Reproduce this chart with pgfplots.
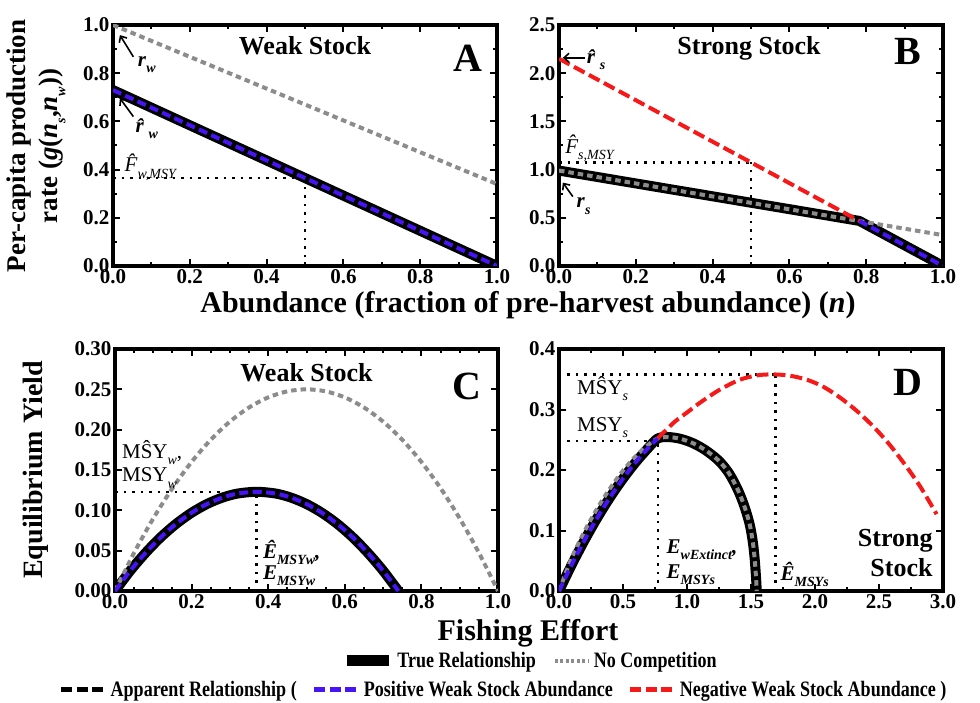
\documentclass[border=0pt]{standalone}
\usepackage{graphicx}
\usepackage{pgfplots}
\pgfplotsset{compat=1.18}
\usepackage{fontspec}
\setmainfont{Liberation Serif}
\usetikzlibrary{arrows.meta}

\definecolor{appblue}{RGB}{70,20,245}
\definecolor{appred}{RGB}{245,25,25}
\definecolor{nocomp}{RGB}{140,140,140}

\newcommand{\fs}[1]{\fontsize{#1}{#1}\selectfont}
\newcommand{\sub}[1]{\raisebox{-0.3em}{\fontsize{14}{14}\selectfont #1}}
% narrow bold lettering of the key
\newcommand{\keytext}[1]{\scalebox{0.82}[1]{#1}}

\tikzset{
  note/.style={font=\fs{21}, inner sep=0pt},
  paneltitle/.style={font=\bfseries\fs{26}, inner sep=0pt},
  letter/.style={font=\bfseries\fs{40}, inner sep=0pt},
  callout/.style={-{Straight Barb[length=5pt,width=9pt]}, line width=1.6pt},
}

\pgfplotsset{
  panel/.style={
    scale only axis, width=384pt,
    axis line style={line width=3.5pt},
    every tick/.style={black, line width=2pt},
    major tick length=7pt, minor tick length=4pt,
    tick align=inside,
    ticklabel style={font=\bfseries\fs{21}},
    /pgf/number format/assume math mode=true,
    xticklabel style={/pgf/number format/.cd, fixed, fixed zerofill, precision=1},
    clip=true,
  },
  truerel/.style={black, line width=10pt, line join=round},
  nocomp line/.style={nocomp, line width=4pt, dash pattern=on 5.5pt off 4pt},
  posweak/.style={appblue, line width=4pt, dash pattern=on 9pt off 4.5pt},
  negweak/.style={appred, line width=4pt, dash pattern=on 12pt off 5pt},
  guide/.style={black, line width=2.5pt, dash pattern=on 2.5pt off 6pt},
  long sample/.style={legend image code/.code={\draw[##1] (0pt,0pt) -- (44pt,0pt);}},
  bar sample/.style={legend image code/.code={\draw[##1] (0pt,0pt) -- (42pt,0pt);}},
  short sample/.style={legend image code/.code={\draw[##1] (0pt,0pt) -- (34pt,0pt);}},
  keyrow/.style={legend style={draw=none, fill=none, anchor=center,
    font=\bfseries\fs{22}, legend columns=-1, nodes={inner sep=3pt},
    /tikz/every even column/.append style={column sep=#1}}},
}

\begin{document}
\begin{tikzpicture}
\path[use as bounding box] (0pt,0pt) rectangle (980pt,702pt);

% ---------- A: per-capita production, weak stock ----------
\begin{axis}[panel, at={(113pt,436pt)}, height=241pt,
  xmin=0, xmax=1, ymin=0, ymax=1,
  xtick={0,0.2,0.4,0.6,0.8,1}, ytick={0,0.2,0.4,0.6,0.8,1}, minor tick num=1,
  yticklabel style={/pgf/number format/.cd, fixed, fixed zerofill, precision=1}]
\addplot[guide] coordinates {(0,0.365) (0.5,0.365)};
\addplot[guide] coordinates {(0.5,0) (0.5,0.365)};
\addplot[truerel] coordinates {(0,0.73) (1,0)};
\addplot[nocomp line] coordinates {(0,1.0) (1,0.34)};
\addplot[posweak] coordinates {(0,0.73) (1,0)};
\node[paneltitle] at (axis cs:0.5,0.913) {Weak Stock};
\node[letter] at (axis cs:0.924,0.86) {A};
\draw[callout] (axis cs:0.053,0.868) -- (axis cs:0.018,0.958);
\node[note] at (axis cs:0.088,0.835) {\textbf{\textit{r}\sub{\textit{w}}}};
\draw[callout] (axis cs:0.053,0.62) -- (axis cs:0.018,0.696);
\node[note] at (axis cs:0.088,0.57) {\textbf{\textit{\^{r}}\sub{\textit{w}}}};
\node[note, anchor=west] at (axis cs:0.03,0.41) {\textit{\^{F}\sub{w,MSY}}};
\end{axis}

% ---------- B: per-capita production, strong stock ----------
\begin{axis}[panel, at={(559pt,436pt)}, height=241pt,
  xmin=0, xmax=1, ymin=0, ymax=2.5,
  xtick={0,0.2,0.4,0.6,0.8,1}, ytick={0,0.5,1,1.5,2,2.5}, minor tick num=1,
  yticklabel style={/pgf/number format/.cd, fixed, fixed zerofill, precision=1}]
\addplot[guide] coordinates {(0,1.075) (0.5,1.075)};
\addplot[guide] coordinates {(0.5,0) (0.5,1.075)};
\addplot[truerel] coordinates {(0,0.99) (0.782,0.468) (1,0)};
\addplot[nocomp line] coordinates {(0,0.99) (1,0.32)};
\addplot[negweak] coordinates {(0,2.15) (0.782,0.468)};
\addplot[posweak] coordinates {(0.782,0.468) (1,0)};
\node[paneltitle] at (axis cs:0.495,2.26) {Strong Stock};
\node[letter] at (axis cs:0.909,2.23) {B};
\draw[callout] (axis cs:0.068,2.16) -- (axis cs:0.01,2.16);
\node[note, anchor=west] at (axis cs:0.072,2.14) {\textbf{\textit{\^{r}}\sub{\textit{s}}}};
\draw[callout] (axis cs:0.036,0.72) -- (axis cs:0.010,0.865);
\node[note] at (axis cs:0.064,0.62) {\textbf{\textit{r}\sub{\textit{s}}}};
\node[note, anchor=west] at (axis cs:0.016,1.22) {\textit{\^{F}\sub{s,MSY}}};
\end{axis}

% ---------- C: equilibrium yield, weak stock ----------
\begin{axis}[panel, at={(115pt,111pt)}, height=242pt, width=383pt,
  xmin=0, xmax=1, ymin=0, ymax=0.3,
  xtick={0,0.2,0.4,0.6,0.8,1}, ytick={0,0.05,0.1,0.15,0.2,0.25,0.3}, minor x tick num=3,
  yticklabel style={/pgf/number format/.cd, fixed, fixed zerofill, precision=2},
  keyrow=14pt, legend style={at={(axis description cs:1.085,-0.289)}}]
\addlegendimage{black, line width=11pt, bar sample}
\addlegendentry{\keytext{True Relationship}}
\addlegendimage{nocomp, line width=4pt, dash pattern=on 3pt off 2.5pt, short sample}
\addlegendentry{\keytext{No Competition}}
\addplot[guide] coordinates {(0,0.123) (0.37,0.123)};
\addplot[guide] coordinates {(0.37,0) (0.37,0.123)};
\addplot[truerel, smooth] coordinates {(0,0) (0.04,0.0252) (0.08,0.0474) (0.12,0.0669) (0.16,0.0834) (0.2,0.0970) (0.24,0.1078) (0.28,0.1157) (0.32,0.1208) (0.37,0.123) (0.42,0.1208) (0.46,0.1157) (0.5,0.1078) (0.54,0.0970) (0.58,0.0834) (0.62,0.0669) (0.66,0.0474) (0.70,0.0252) (0.74,0)};
\addplot[nocomp line, smooth] coordinates {(0,0) (0.05,0.0475) (0.1,0.09) (0.15,0.1275) (0.2,0.16) (0.25,0.1875) (0.3,0.21) (0.35,0.2275) (0.4,0.24) (0.45,0.2475) (0.5,0.25) (0.55,0.2475) (0.6,0.24) (0.65,0.2275) (0.7,0.21) (0.75,0.1875) (0.8,0.16) (0.85,0.1275) (0.9,0.09) (0.95,0.0475) (1,0)};
\addplot[posweak, smooth] coordinates {(0,0) (0.04,0.0252) (0.08,0.0474) (0.12,0.0669) (0.16,0.0834) (0.2,0.0970) (0.24,0.1078) (0.28,0.1157) (0.32,0.1208) (0.37,0.123) (0.42,0.1208) (0.46,0.1157) (0.5,0.1078) (0.54,0.0970) (0.58,0.0834) (0.62,0.0669) (0.66,0.0474) (0.70,0.0252) (0.74,0)};
\node[paneltitle] at (axis cs:0.5,0.271) {Weak Stock};
\node[letter] at (axis cs:0.92,0.254) {C};
\node[note, anchor=west] at (axis cs:0.018,0.172) {M\^{S}Y\sub{\textit{w}},};
\node[note, anchor=west] at (axis cs:0.018,0.14) {MSY\sub{\textit{w}}};
\node[note, anchor=west] at (axis cs:0.386,0.048) {\textbf{\textit{\^{E}\sub{MSYw},}}};
\node[note, anchor=west] at (axis cs:0.386,0.019) {\textbf{\textit{E\sub{MSYw}}}};
\end{axis}

% ---------- D: equilibrium yield, strong stock ----------
\begin{axis}[panel, at={(559pt,111pt)}, height=242pt,
  xmin=0, xmax=3, ymin=0, ymax=0.4,
  xtick={0,0.5,1,1.5,2,2.5,3}, ytick={0,0.1,0.2,0.3,0.4}, minor x tick num=1,
  yticklabel style={/pgf/number format/.cd, fixed, fixed zerofill, precision=1},
  keyrow=12pt, legend style={at={(axis description cs:-0.143,-0.409)}}]
\addlegendimage{black, line width=5pt, dash pattern=on 11pt off 4.5pt, long sample}
\addlegendentry{\keytext{Apparent Relationship (}}
\addlegendimage{appblue, line width=5pt, dash pattern=on 11pt off 4.5pt, long sample}
\addlegendentry{\keytext{Positive Weak Stock Abundance}}
\addlegendimage{appred, line width=5pt, dash pattern=on 11pt off 4.5pt, long sample}
\addlegendentry{\keytext{Negative Weak Stock Abundance )}}
\addplot[guide] coordinates {(0,0.358) (1.69,0.358)};
\addplot[guide] coordinates {(1.69,0) (1.69,0.358)};
\addplot[guide] coordinates {(0,0.248) (0.76,0.248)};
\addplot[guide] coordinates {(0.775,0) (0.775,0.248)};
\addplot[truerel, smooth] coordinates {(0,0) (0.1,0.0437) (0.2,0.0841) (0.3,0.1213) (0.4,0.1552) (0.5,0.1857) (0.6,0.2131) (0.7,0.2371) (0.77,0.252) (0.85,0.2545) (0.95,0.2515) (1.05,0.244) (1.15,0.232) (1.25,0.215) (1.33,0.194) (1.40,0.166) (1.45,0.139) (1.49,0.110) (1.515,0.080) (1.53,0.05) (1.54,0.02) (1.545,0)};
\addplot[nocomp line, smooth] coordinates {(0,0) (0.1,0.055) (0.2,0.099) (0.3,0.137) (0.4,0.170) (0.5,0.199) (0.6,0.223) (0.7,0.242) (0.77,0.252) (0.85,0.2545) (0.95,0.2515) (1.05,0.244) (1.15,0.232) (1.25,0.215) (1.33,0.194) (1.40,0.166) (1.45,0.139) (1.49,0.110) (1.515,0.080) (1.53,0.05) (1.54,0.02) (1.545,0)};
\addplot[negweak, smooth] coordinates {(0.77,0.252) (0.9,0.279) (1.0,0.295) (1.1,0.311) (1.25,0.332) (1.41,0.349) (1.55,0.3565) (1.67,0.358) (1.8,0.356) (1.94,0.349) (2.07,0.337) (2.2,0.319) (2.33,0.297) (2.46,0.271) (2.59,0.240) (2.72,0.204) (2.83,0.170) (2.95,0.127)};
\addplot[posweak, smooth] coordinates {(0,0) (0.1,0.0437) (0.2,0.0841) (0.3,0.1213) (0.4,0.1552) (0.5,0.1857) (0.6,0.2131) (0.7,0.2371) (0.77,0.252)};
\node[letter] at (axis cs:2.73,0.344) {D};
\node[paneltitle, anchor=east, align=right, font=\bfseries\fontsize{26}{30}\selectfont] at (axis cs:2.92,0.063) {Strong\\Stock};
\node[note, anchor=west] at (axis cs:0.14,0.335) {M\^{S}Y\sub{\textit{s}}};
\node[note, anchor=west] at (axis cs:0.14,0.27) {MSY\sub{\textit{s}}};
\node[note, anchor=west] at (axis cs:0.84,0.068) {\textbf{\textit{E\sub{wExtinct},}}};
\node[note, anchor=west] at (axis cs:0.84,0.027) {\textbf{\textit{E\sub{MSYs}}}};
\node[note, anchor=west] at (axis cs:1.73,0.027) {\textbf{\textit{\^{E}\sub{MSYs}}}};
\end{axis}

% ---------- shared axis labels ----------
\node[rotate=90, align=center, font=\bfseries\fontsize{27}{32}\selectfont] at (36pt,556pt)
  {Per-capita production\\rate (\textit{g}(\textit{n}\sub{\textit{s}},\textit{n}\sub{\textit{w}}))};
\node[rotate=90, font=\bfseries\fs{28}] at (36pt,232pt) {Equilibrium Yield};
\node[font=\bfseries\fs{30}] at (528pt,397pt) {Abundance (fraction of pre-harvest abundance) (\textit{n})};
\node[font=\bfseries\fs{30}] at (528pt,69pt) {Fishing Effort};
\end{tikzpicture}
\end{document}
